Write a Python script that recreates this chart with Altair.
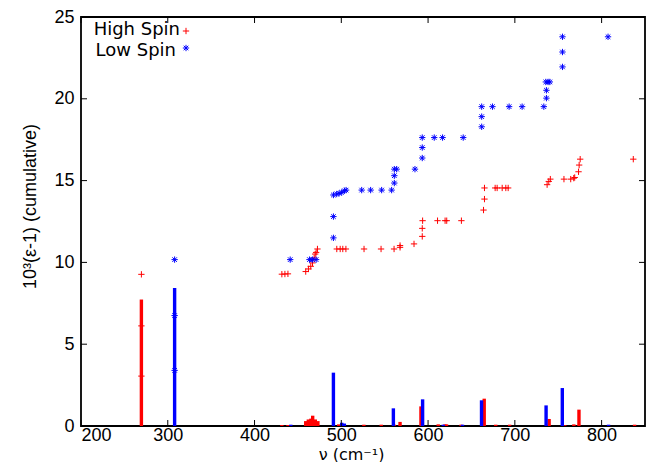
import altair as alt
import pandas as pd

# ---- data ----
series = ["High Spin", "Low Spin"]
colors = ["#ff0000", "#0000ff"]

# cumulative points, High Spin (red +)
hs_x = [269.6, 269.6, 269.6, 431.5, 435.0, 438.5,
        459.0, 462.1, 464.8, 466.8, 468.7, 469.9, 471.0, 472.5,
        494.8, 498.7, 501.7, 505.3, 526.2, 545.8, 560.8,
        567.7, 567.7, 583.8, 593.3, 593.3, 593.7,
        610.9, 619.6, 621.5, 638.4,
        663.9, 665.0, 665.0, 677.3, 679.6, 685.4, 689.6, 692.3,
        737.2, 739.1, 740.9, 756.6, 764.4, 767.9, 769.0,
        773.4, 774.1, 775.3, 836.5]
hs_y = [3.05, 6.12, 9.27, 9.28, 9.29, 9.30,
        9.44, 9.60, 9.76, 9.97, 10.27, 10.51, 10.61, 10.82,
        10.82, 10.82, 10.82, 10.82, 10.82, 10.82, 10.82,
        10.92, 11.03, 11.13, 11.59, 12.08, 12.55,
        12.55, 12.55, 12.55, 12.55,
        13.20, 13.87, 14.55, 14.55, 14.55, 14.55, 14.55, 14.55,
        14.75, 14.95, 15.09, 15.09, 15.09, 15.15, 15.19,
        15.54, 15.95, 16.31, 16.31]

# cumulative points, Low Spin (blue star)
ls_x = [307.9, 307.9, 307.9, 441.1, 463.3, 466.7, 471.0,
        490.9, 490.9, 490.9, 494.7, 497.5, 500.5, 503.6, 505.5,
        523.5, 533.8, 546.5, 558.0,
        561.1, 561.1, 561.1, 563.8, 584.9,
        593.3, 593.3, 593.3, 607.1, 616.7, 640.5,
        661.8, 661.8, 661.8, 674.2, 693.4, 708.4, 733.4,
        736.4, 736.4, 735.7, 738.3, 740.3,
        754.9, 754.9, 754.9, 807.4]
ls_y = [3.40, 6.75, 10.17, 10.17, 10.17, 10.17, 10.17,
        11.50, 12.80, 14.12, 14.18, 14.22, 14.28, 14.38, 14.42,
        14.42, 14.42, 14.42, 14.42,
        14.85, 15.30, 15.70, 15.70, 15.70,
        16.38, 17.02, 17.63, 17.63, 17.63, 17.63,
        18.29, 18.91, 19.52, 19.52, 19.52, 19.52, 19.52,
        20.04, 20.52, 21.03, 21.03, 21.03,
        21.95, 22.86, 23.79, 23.79]

# stick spectrum, High Spin
hs_bar_x = [269.6, 431.5, 438.5, 459.0, 462.0, 465.0, 467.0, 470.0, 473.0,
            497.0, 500.5, 526.0, 546.0, 561.0, 567.7, 591.8,
            611.7, 619.4, 621.3, 638.0, 664.7, 678.0, 694.0,
            739.5, 757.5, 768.0, 773.9, 838.0]
hs_bar_h = [7.73, 0.06, 0.06, 0.30, 0.40, 0.45, 0.63, 0.40, 0.30,
            0.10, 0.10, 0.08, 0.08, 0.08, 0.25, 1.20,
            0.10, 0.10, 0.10, 0.08, 1.67, 0.08, 0.08,
            0.43, 0.05, 0.10, 1.00, 0.08]

# stick spectrum, Low Spin
ls_bar_x = [307.9, 441.8, 490.9, 500.5, 503.5, 560.0, 593.7,
            617.5, 639.7, 661.6, 736.0, 754.7, 808.0]
ls_bar_h = [8.44, 0.08, 3.26, 0.20, 0.15, 1.08, 1.63,
            0.08, 0.08, 1.57, 1.26, 2.32, 0.08]

x_ticks = [200, 300, 400, 500, 600, 700, 800]
y_ticks = [0, 5, 10, 15, 20, 25]

x_title = "ν (cm⁻¹)"
y_title = "10³(ε-1) (cumulative)"

# ---- tables ----
pts = pd.DataFrame({
    "x": hs_x + ls_x,
    "y": hs_y + ls_y,
    "spin": [series[0]] * len(hs_x) + [series[1]] * len(ls_x),
})
bars = pd.DataFrame({
    "x": hs_bar_x + ls_bar_x,
    "h": hs_bar_h + ls_bar_h,
    "spin": [series[0]] * len(hs_bar_x) + [series[1]] * len(ls_bar_x),
})
xt = pd.DataFrame({"v": x_ticks})
yt = pd.DataFrame({"v": y_ticks})
leg = pd.DataFrame({"spin": series})

W, H = 564, 409
TL = 6

xs = alt.Scale(domain=[200, 850], nice=False, zero=False)
ys = alt.Scale(domain=[0, 25], nice=False)
cs = alt.Scale(domain=series, range=colors)
PLUS = "M-1,0L1,0M0,-1L0,1"
STAR = "M-1,0L1,0M0,-1L0,1M-0.72,-0.72L0.72,0.72M-0.72,0.72L0.72,-0.72"
shapes = [PLUS, STAR]
ss = alt.Scale(domain=series, range=shapes)

x_axis = alt.Axis(values=x_ticks, title=x_title, ticks=False,
                  domain=False, grid=False, labelFont="Liberation Sans",
                  labelFontSize=18, labelPadding=0, labelColor="black",
                  titleFont="DejaVu Sans", titleFontSize=16,
                  titleFontWeight="normal", titleColor="black",
                  titleX=270, titleY=33, titleAlign="center",
                  titleBaseline="alphabetic")
y_axis = alt.Axis(values=y_ticks, title=y_title, ticks=False,
                  domain=False, grid=False, labelFont="Liberation Sans",
                  labelFontSize=18, labelPadding=7, labelColor="black",
                  titleFont="Liberation Sans", titleFontSize=18,
                  titleFontWeight="normal", titleColor="black",
                  titleX=-51, titleY=189, titleAlign="center",
                  titleBaseline="middle")

bar_layer = alt.Chart(bars).mark_rule(strokeWidth=3.4).encode(
    x=alt.X("x:Q", scale=xs, axis=x_axis),
    y=alt.Y("h:Q", scale=ys, axis=y_axis),
    y2=alt.datum(0),
    color=alt.Color("spin:N", scale=cs, legend=None),
)

pt_layer = alt.Chart(pts).mark_point(filled=False, strokeWidth=1, size=40,
                                     opacity=1).encode(
    x=alt.X("x:Q", scale=xs),
    y=alt.Y("y:Q", scale=ys),
    color=alt.Color("spin:N", scale=cs, legend=None),
    shape=alt.Shape("spin:N", scale=ss, legend=None),
)

tick_style = dict(color="black", strokeWidth=1)
t_bottom = alt.Chart(xt).mark_rule(**tick_style).encode(
    x=alt.X("v:Q", scale=xs), y=alt.value(H), y2=alt.value(H - TL))
t_top = alt.Chart(xt).mark_rule(**tick_style).encode(
    x=alt.X("v:Q", scale=xs), y=alt.value(0), y2=alt.value(TL))
t_left = alt.Chart(yt).mark_rule(**tick_style).encode(
    y=alt.Y("v:Q", scale=ys), x=alt.value(0), x2=alt.value(TL))
t_right = alt.Chart(yt).mark_rule(**tick_style).encode(
    y=alt.Y("v:Q", scale=ys), x=alt.value(W), x2=alt.value(W - TL))

# key (legend) in the gnuplot style: label, then the symbol to its right
key_layers = []
for i, name in enumerate(series):
    row = alt.Chart(leg).transform_filter(alt.datum.spin == name)
    key_layers.append(row.mark_text(align="right", baseline="middle",
                                    font="DejaVu Sans", fontSize=18,
                                    color="black").encode(
        text="spin:N", x=alt.value(99 - 4 * i), y=alt.value(13 + 21 * i)))
    key_layers.append(row.mark_point(filled=False, strokeWidth=1, size=40,
                                     opacity=1).encode(
        x=alt.value(105), y=alt.value(14 + 17 * i),
        color=alt.value(colors[i]), shape=alt.value(shapes[i])))

chart = alt.layer(bar_layer, pt_layer, t_bottom, t_top, t_left, t_right,
                  *key_layers).properties(
    width=W, height=H,
    autosize=alt.AutoSizeParams(type="none"),
    padding={"left": 73, "top": 9, "right": 1, "bottom": 36},
    background="white",
).configure_view(stroke="black", strokeWidth=1.8)

chart.save("out.html", embed_options={"renderer": "svg", "actions": False})
